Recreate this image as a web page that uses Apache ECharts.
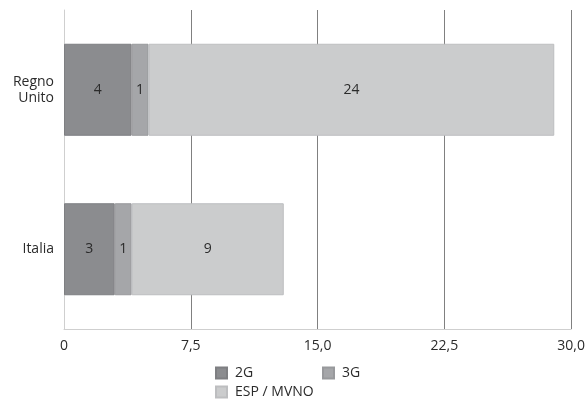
<!DOCTYPE html>
<html>
<head>
<meta charset="utf-8">
<script src="https://cdn.jsdelivr.net/npm/echarts@6/dist/echarts.min.js"></script>
<style>
  html, body { margin: 0; padding: 0; background: #fff; }
  #chart { width: 588px; height: 400px; }
</style>
</head>
<body>
<div id="chart"></div>
<script>
// Categories (bottom to top) and subscriber counts per network type
const categories = ['Italia', 'Regno\nUnito'];
const values2G = [3, 4];
const values3G = [1, 1];
const valuesESP = [9, 24];

const axisTicks = { min: 0, max: 30, interval: 7.5 };

const FONT = 'Open Sans';
const colors = { '2G': '#8b8c8f', '3G': '#a5a6a9', 'ESP / MVNO': '#cbcccd' };
const borders = { '2G': '#7e7f82', '3G': '#98999c', 'ESP / MVNO': '#bdbec0' };

function barSeries(name, data) {
  return {
    name: name,
    type: 'bar',
    stack: 'total',
    data: data,
    barWidth: 92,
    itemStyle: { color: colors[name], borderColor: borders[name], borderWidth: 1 },
    label: {
      show: true,
      position: 'inside',
      color: '#2b2b2b',
      fontFamily: FONT,
      fontSize: 14
    }
  };
}

function legendAt(name, left, top) {
  return {
    data: [name],
    left: left,
    top: top,
    icon: 'rect',
    itemWidth: 11,
    itemHeight: 11,
    padding: 0,
    selectedMode: false,
    textStyle: { fontFamily: FONT, fontSize: 14, color: '#2b2b2b', padding: [0, 0, 0, 3] }
  };
}

const chart = echarts.init(document.getElementById('chart'));
chart.setOption({
  animation: false,
  textStyle: { fontFamily: FONT },
  grid: { left: 64, right: 16, top: 10, bottom: 71, containLabel: false },
  xAxis: {
    type: 'value',
    min: axisTicks.min,
    max: axisTicks.max,
    interval: axisTicks.interval,
    axisLine: { show: true, lineStyle: { color: '#cfcfcf', width: 1 } },
    axisTick: { show: false },
    axisLabel: {
      fontFamily: FONT,
      fontSize: 14,
      color: '#2b2b2b',
      margin: 10,
      formatter: v => v === 0 ? '0' : v.toFixed(1).replace('.', ',')
    },
    splitLine: { show: true, showMinLine: false, lineStyle: { color: '#808080', width: 1 } }
  },
  yAxis: {
    type: 'category',
    data: categories,
    axisLine: { show: true, lineStyle: { color: '#cfcfcf', width: 1 } },
    axisTick: { show: false },
    axisLabel: {
      fontFamily: FONT,
      fontSize: 14,
      color: '#2b2b2b',
      margin: 10,
      align: 'right',
      lineHeight: 16
    },
    splitLine: { show: false }
  },
  legend: [
    legendAt('2G', 215, 366),
    legendAt('3G', 322, 366),
    legendAt('ESP / MVNO', 215, 385)
  ],
  series: [
    barSeries('2G', values2G),
    barSeries('3G', values3G),
    barSeries('ESP / MVNO', valuesESP)
  ]
});
</script>
</body>
</html>
